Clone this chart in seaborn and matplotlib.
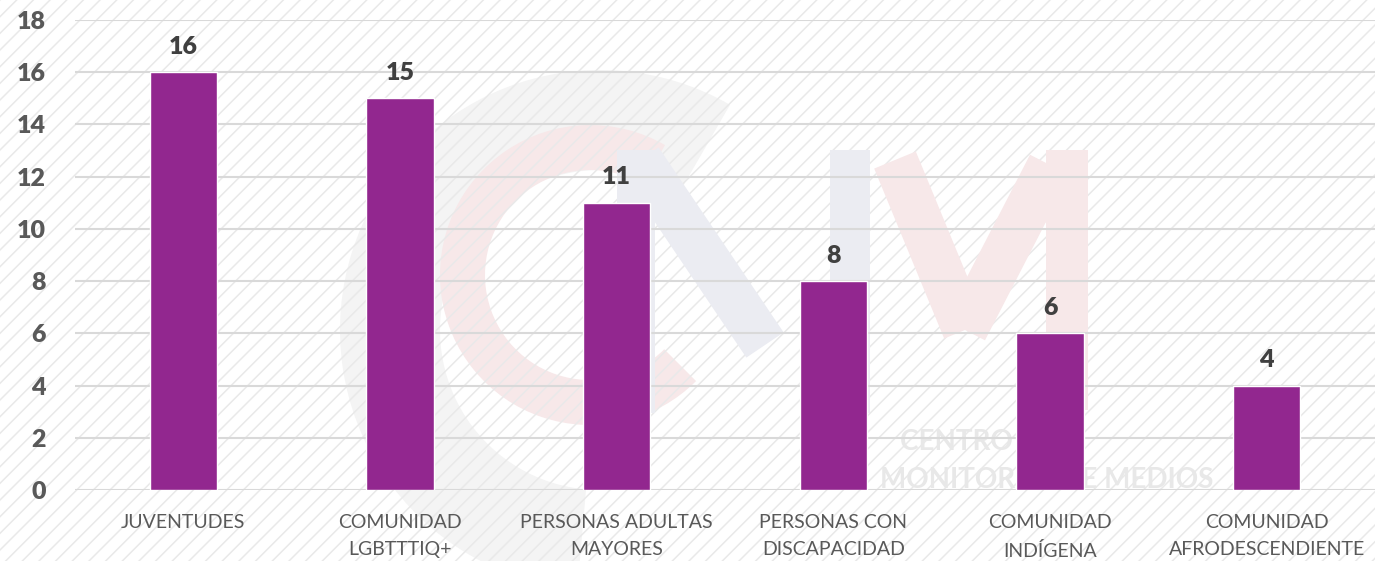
import matplotlib
matplotlib.use("Agg")
import matplotlib.pyplot as plt
import matplotlib.patches as mpatches
import seaborn as sns
import pandas as pd

# values
categorias = ["JUVENTUDES", "COMUNIDAD\nLGBTTTIQ+", "PERSONAS ADULTAS\nMAYORES",
              "PERSONAS CON\nDISCAPACIDAD", "COMUNIDAD\nINDÍGENA", "COMUNIDAD\nAFRODESCENDIENTE"]
casos = [16, 15, 11, 8, 6, 4]
y_ticks = [0, 2, 4, 6, 8, 10, 12, 14, 16, 18]

df = pd.DataFrame({"categoria": categorias, "casos": casos})

sns.set_style("white")
plt.rcParams["font.family"] = ["Lato", "DejaVu Sans"]
plt.rcParams["hatch.linewidth"] = 1.1

W, H = 1375, 561
fig = plt.figure(figsize=(W / 100, H / 100), dpi=100)

# hatched background with faint watermark logo
bg = fig.add_axes([0, 0, 1, 1], zorder=-10)
bg.set_xlim(0, W)
bg.set_ylim(H, 0)
bg.axis("off")
bg.add_patch(mpatches.Rectangle((0, 0), W, H, facecolor="white", edgecolor="none"))
bg.add_patch(mpatches.Wedge((600, 330), 260, 95, 300, width=100,
                            facecolor="#f4f4f4", edgecolor="none"))
bg.add_patch(mpatches.Wedge((590, 275), 150, 45, 300, width=45,
                            facecolor="#f7e8e9", edgecolor="none"))
k = 0.72
bg.plot([636, 636], [150, 413], color="#ebecf2", lw=38 * k, solid_capstyle="butt")
bg.plot([640, 765], [160, 345], color="#ebecf2", lw=45 * k, solid_capstyle="butt")
bg.plot([850, 850], [150, 413], color="#ebecf2", lw=40 * k, solid_capstyle="butt")
bg.plot([895, 965], [160, 330], color="#f7e8e9", lw=45 * k, solid_capstyle="butt")
bg.plot([965, 1050], [330, 165], color="#f7e8e9", lw=45 * k, solid_capstyle="butt")
bg.plot([1067, 1067], [150, 410], color="#f7e8e9", lw=42 * k, solid_capstyle="butt")
bg.text(900, 442, "CENTRO DE", fontsize=20, fontweight="bold", color="#e8e8e8",
        ha="left", va="center")
bg.text(880, 480, "MONITOREO DE MEDIOS", fontsize=20, fontweight="bold", color="#e8e8e8",
        ha="left", va="center")
bg.add_patch(mpatches.Rectangle((0, 0), W, H, facecolor="none",
                                edgecolor="#e9e9e9", hatch="//", lw=0))

ax = fig.add_axes([75 / W, 1 - 490 / H, 1 - 75 / W, (490 - 20) / H])
ax.set_facecolor("none")

sns.barplot(data=df, x="categoria", y="casos", color="#92278F", width=0.31,
            saturation=1, ax=ax, zorder=3)

for i, v in enumerate(casos):
    ax.text(i, v + 0.55, str(v), ha="center", va="bottom", fontsize=18,
            fontweight="heavy", color="#404040")

ax.set_ylim(0, 18)
ax.set_xlim(-0.5, len(categorias) - 0.5)
ax.set_yticks(y_ticks)
ax.yaxis.grid(True, color="#d9d9d9", lw=1.5, zorder=0)
ax.set_axisbelow(True)
for s in ax.spines.values():
    s.set_visible(False)
ax.tick_params(axis="both", length=0)
ax.tick_params(axis="y", pad=21)
ax.tick_params(axis="x", pad=17)
for lbl in ax.get_yticklabels():
    lbl.set_fontsize(18)
    lbl.set_fontweight("heavy")
    lbl.set_color("#595959")
for lbl in ax.get_xticklabels():
    lbl.set_fontsize(14)
    lbl.set_color("#595959")
    lbl.set_linespacing(1.75)
ax.set_xlabel("")
ax.set_ylabel("")

fig.savefig("out.png", dpi=100)
